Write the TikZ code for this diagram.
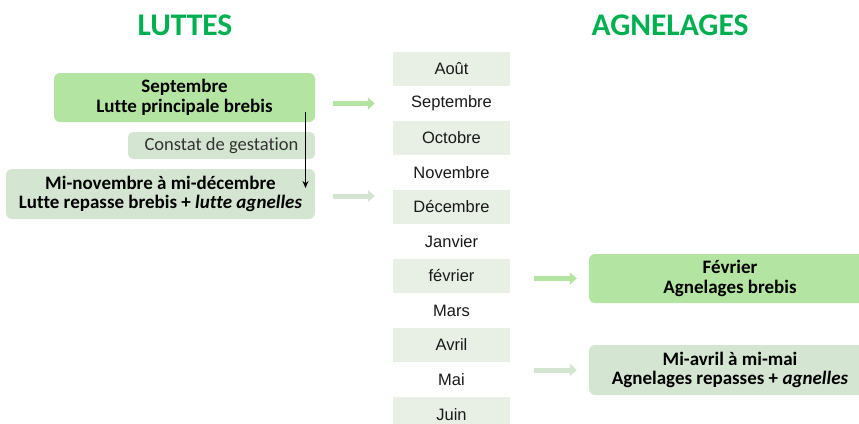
\documentclass[tikz,border=0pt]{standalone}
\usepackage{fontspec}
\setmainfont[Ligatures=NoCommon]{Carlito}
\newfontfamily\monthfont{Liberation Sans}
\usetikzlibrary{arrows.meta}
\definecolor{titlegreen}{HTML}{00B050}
\definecolor{boxgreen}{HTML}{B4E4A2}
\definecolor{boxgrey}{HTML}{D4E6D1}
\definecolor{rowshade}{HTML}{E8F0E6}
\tikzset{
  title/.style={font=\fontsize{31.5}{34}\selectfont\bfseries, text=titlegreen},
  bigbox/.style={rounded corners=6pt, inner sep=0pt, align=center,
     font=\fontsize{19}{19.5}\selectfont\bfseries, text=black},
  month/.style={minimum width=117pt, minimum height=34.5pt, inner sep=0pt,
     font=\monthfont\fontsize{16.5}{18}\selectfont, text=black!90},
  shaded/.style={month, fill=rowshade},
  fatarrow/.style={line width=5pt, -{Triangle[width=12pt,length=7pt]}},
}
\begin{document}
\begin{tikzpicture}[x=1pt,y=-1pt]
\useasboundingbox (0,0) rectangle (859,423);
\begin{scope}
\clip (0,0) rectangle (859,423);
% titles
\node[title] (t1) at (185,25.5) {LUTTES};
\node[title] (t2) at (670,25.5) {AGNELAGES};
% month column
\node[shaded] (m1) at (451.5,69) {Août};
\node[month] (m2) at (451.5,103.5) {Septembre};
\node[shaded] (m3) at (451.5,138) {Octobre};
\node[month] (m4) at (451.5,172.5) {Novembre};
\node[shaded] (m5) at (451.5,207) {Décembre};
\node[month] (m6) at (451.5,241.5) {Janvier};
\node[shaded] (m7) at (451.5,276) {février};
\node[month] (m8) at (451.5,310.5) {Mars};
\node[shaded] (m9) at (451.5,345) {Avril};
\node[month] (m10) at (451.5,379.5) {Mai};
\node[shaded, anchor=north] (m11) at (451.5,396.8) {Juin};
% luttes boxes
\node[bigbox, fill=boxgreen, minimum width=261pt, minimum height=49pt] (b1) at (184.5,97.5)
  {Septembre\\Lutte principale brebis};
\node[rounded corners=5pt, fill=boxgrey, minimum width=187pt, minimum height=27pt, inner sep=0pt,
  font=\fontsize{18.5}{20}\selectfont, text=black!80] (cg) at (221.5,145.5) {Constat de gestation};
\node[bigbox, fill=boxgrey, minimum width=309pt, minimum height=50pt] (b2) at (160.5,194)
  {Mi-novembre à mi-décembre\\Lutte repasse brebis + \textit{lutte agnelles}};
% agnelages boxes
\node[bigbox, fill=boxgreen, minimum width=282pt, minimum height=49pt] (a1) at (730,278.5)
  {Février\\Agnelages brebis};
\node[bigbox, fill=boxgrey, minimum width=282pt, minimum height=50pt] (a2) at (730,370)
  {Mi-avril à mi-mai\\Agnelages repasses + \textit{agnelles}};
% vertical arrow
\coordinate (va) at (305.5,112);
\coordinate (vb) at (305.5,188);
\draw[line width=1.2pt, -{Stealth[length=7pt,width=6pt]}] (va) -- (vb);
% thick arrows
\draw[fatarrow, draw=boxgreen, shorten <=18pt, shorten >=18pt] (b1.east |- m2) -- (m2.west);
\draw[fatarrow, draw=boxgrey, shorten <=18pt, shorten >=18pt] ([yshift=-2pt]b2.east) -- ([yshift=-2pt]b2.east -| m4.west);
\draw[fatarrow, draw=boxgreen, shorten <=24pt, shorten >=12pt] (a1.west -| m7.east) -- (a1.west);
\draw[fatarrow, draw=boxgrey, shorten <=24pt, shorten >=12pt] (a2.west -| m9.east) -- (a2.west);
\end{scope}
\end{tikzpicture}
\end{document}
